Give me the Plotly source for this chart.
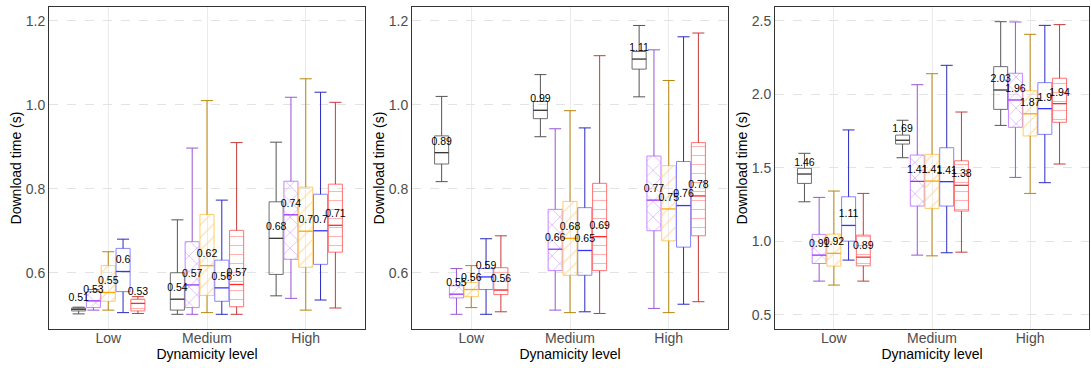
import plotly.graph_objects as go

# ---------------- data ----------------
levels = ["Low", "Medium", "High"]
series = ["A", "B", "C", "D", "E"]

# each list: one entry per series (A..E), each entry = values for Low, Medium, High
p1_lower = [[0.502, 0.501, 0.545], [0.511, 0.501, 0.539], [0.511, 0.505, 0.511], [0.505, 0.501, 0.535], [0.503, 0.501, 0.516]]
p1_q1 = [[0.509, 0.511, 0.596], [0.517, 0.517, 0.632], [0.532, 0.546, 0.613], [0.555, 0.532, 0.620], [0.509, 0.519, 0.649]]
p1_median = [[0.513, 0.537, 0.682], [0.533, 0.571, 0.738], [0.553, 0.617, 0.699], [0.603, 0.564, 0.700], [0.527, 0.572, 0.713]]
p1_q3 = [[0.516, 0.600, 0.769], [0.555, 0.674, 0.818], [0.617, 0.739, 0.804], [0.658, 0.630, 0.787], [0.537, 0.701, 0.811]]
p1_upper = [[0.518, 0.726, 0.911], [0.560, 0.897, 1.018], [0.650, 1.010, 1.062], [0.680, 0.773, 1.030], [0.543, 0.910, 1.006]]

p2_lower = [[0.817, 0.924, 1.019], [0.501, 0.511, 0.515], [0.517, 0.505, 0.505], [0.501, 0.507, 0.525], [0.507, 0.503, 0.531]]
p2_q1 = [[0.859, 0.967, 1.085], [0.540, 0.605, 0.700], [0.543, 0.594, 0.676], [0.560, 0.594, 0.661], [0.548, 0.605, 0.688]]
p2_median = [[0.886, 0.987, 1.109], [0.549, 0.656, 0.773], [0.560, 0.682, 0.752], [0.590, 0.653, 0.760], [0.559, 0.686, 0.783]]
p2_q3 = [[0.926, 1.008, 1.127], [0.569, 0.751, 0.878], [0.577, 0.770, 0.855], [0.610, 0.755, 0.865], [0.612, 0.813, 0.910]]
p2_upper = [[1.020, 1.072, 1.189], [0.610, 0.943, 1.131], [0.617, 0.986, 1.058], [0.681, 0.945, 1.162], [0.688, 1.117, 1.171]]

p3_lower = [[1.269, 1.569, 1.789], [0.729, 0.906, 1.435], [0.702, 0.901, 1.326], [0.872, 0.922, 1.399], [0.729, 0.926, 1.526]]
p3_q1 = [[1.394, 1.662, 1.898], [0.849, 1.240, 1.776], [0.831, 1.224, 1.717], [1.001, 1.240, 1.728], [0.833, 1.206, 1.810]]
p3_median = [[1.458, 1.688, 2.030], [0.906, 1.408, 1.962], [0.918, 1.410, 1.868], [1.108, 1.406, 1.903], [0.892, 1.381, 1.937]]
p3_q3 = [[1.497, 1.723, 2.189], [1.047, 1.587, 2.144], [1.049, 1.592, 2.025], [1.303, 1.637, 2.080], [1.042, 1.548, 2.110]]
p3_upper = [[1.599, 1.824, 2.495], [1.299, 2.066, 2.493], [1.342, 2.141, 2.409], [1.758, 2.198, 2.470], [1.326, 1.880, 2.475]]

y_tickvals_12 = [0.6, 0.8, 1.0, 1.2]
y_tickvals_3 = [0.5, 1.0, 1.5, 2.0, 2.5]

# ---------------- styles ----------------
edge_colors = ["#6e6e6e", "#c486ff", "#ffcc66", "#8585ff", "#ff7272"]
whisker_colors = ["#555555", "#9a55d6", "#b8860b", "#2a2ac2", "#c83a3a"]
median_colors = ["#333333", "#9b30ff", "#ffa500", "#3434ff", "#ff2a2a"]
pattern_shapes = ["", "x", "/", "", "-"]
pattern_sizes = [9, 11, 9, 9, 9]
pattern_colors = ["#ffffff", "#d6a8ff", "#ffd99a", "#ffffff", "#ffb3b3"]

FONT = "Liberation Sans, Arial, sans-serif"

panels = [
    (p1_lower, p1_q1, p1_median, p1_q3, p1_upper),
    (p2_lower, p2_q1, p2_median, p2_q3, p2_upper),
    (p3_lower, p3_q1, p3_median, p3_q3, p3_upper),
]

fig = go.Figure()

for k, (lo, q1, med, q3, up) in enumerate(panels):
    xa = "x" if k == 0 else f"x{k+1}"
    ya = "y" if k == 0 else f"y{k+1}"
    for i in range(len(series)):
        grp = series[i]
        # box body
        fig.add_trace(go.Bar(
            x=levels, y=[b - a for a, b in zip(q1[i], q3[i])], base=q1[i],
            offsetgroup=grp, xaxis=xa, yaxis=ya, showlegend=False, hoverinfo="skip",
            marker=dict(color="rgba(0,0,0,0)",
                        line=dict(color=edge_colors[i], width=1),
                        pattern=dict(shape=pattern_shapes[i], fgcolor=pattern_colors[i],
                                     bgcolor="rgba(0,0,0,0)", fillmode="replace",
                                     size=pattern_sizes[i], solidity=0.12)),
        ))
    for i in range(len(series)):
        grp = series[i]
        # whiskers (error bars) + caps (markers)
        fig.add_trace(go.Scatter(
            x=levels + levels, y=up[i] + lo[i], mode="markers",
            offsetgroup=grp, xaxis=xa, yaxis=ya, showlegend=False, hoverinfo="skip",
            marker=dict(symbol="line-ew", size=8.6, color=whisker_colors[i],
                        line=dict(color=whisker_colors[i], width=1)),
            error_y=dict(type="data", symmetric=False,
                         array=[0, 0, 0] + [b - a for a, b in zip(lo[i], q1[i])],
                         arrayminus=[b - a for a, b in zip(q3[i], up[i])] + [0, 0, 0],
                         width=0, thickness=1, color=whisker_colors[i]),
        ))
        # median line
        fig.add_trace(go.Scatter(
            x=levels, y=med[i], mode="markers",
            offsetgroup=grp, xaxis=xa, yaxis=ya, showlegend=False, hoverinfo="skip",
            marker=dict(symbol="line-ew", size=10, color=median_colors[i],
                        line=dict(color=median_colors[i], width=1.3)),
        ))
    for i in range(len(series)):
        grp = series[i]
        # median labels
        fig.add_trace(go.Scatter(
            x=levels, y=med[i], mode="markers+text",
            text=[f"{round(m, 2):g}" for m in med[i]], textposition="top center",
            textfont=dict(family=FONT, size=10.5, color="#000000"),
            offsetgroup=grp, xaxis=xa, yaxis=ya, showlegend=False, hoverinfo="skip",
            marker=dict(size=7.2, color="rgba(0,0,0,0)"),
        ))

W = 1091.0
domains = [(49 / W, 365 / W), (412 / W, 728 / W), (775 / W, 1089 / W)]
yranges = [[0.466, 1.233], [0.466, 1.233], [0.403, 2.595]]
yticks = [y_tickvals_12, y_tickvals_12, y_tickvals_3]

layout = dict(
    width=1091, height=368,
    margin=dict(l=0, r=0, t=7, b=39),
    paper_bgcolor="white", plot_bgcolor="white",
    barmode="group", bargap=0.25, bargroupgap=0.05,
    scattermode="group", scattergap=0.25,
    font=dict(family=FONT, size=14, color="#000000"),
    showlegend=False,
)
for k in range(3):
    xs = "xaxis" if k == 0 else f"xaxis{k+1}"
    ys = "yaxis" if k == 0 else f"yaxis{k+1}"
    xa = "x" if k == 0 else f"x{k+1}"
    ya = "y" if k == 0 else f"y{k+1}"
    layout[xs] = dict(
        domain=list(domains[k]), anchor=ya, type="category",
        categoryorder="array", categoryarray=levels, range=[-0.6, 2.6],
        showgrid=True, gridcolor="#ebebeb", gridwidth=1,
        showline=True, mirror=True, linecolor="#333333", linewidth=1,
        ticks="", ticklen=0, ticklabelstandoff=-4,
        tickfont=dict(family=FONT, size=14, color="#4d4d4d"),
        title=dict(text="Dynamicity level", standoff=0,
                   font=dict(family=FONT, size=14, color="#000000")),
        zeroline=False, fixedrange=True,
    )
    layout[ys] = dict(
        domain=[0, 1], anchor=xa, range=yranges[k],
        tickvals=yticks[k], tickformat=".1f",
        showgrid=True, gridcolor="#e3e3e3", gridwidth=1, griddash="dash",
        showline=True, mirror=True, linecolor="#333333", linewidth=1,
        ticks="", ticklen=0,
        tickfont=dict(family=FONT, size=14, color="#4d4d4d"),
        title=dict(text="Download time (s)", standoff=0,
                   font=dict(family=FONT, size=14, color="#000000")),
        zeroline=False, fixedrange=True,
    )

fig.update_layout(**layout)
fig.write_html("out.html")
